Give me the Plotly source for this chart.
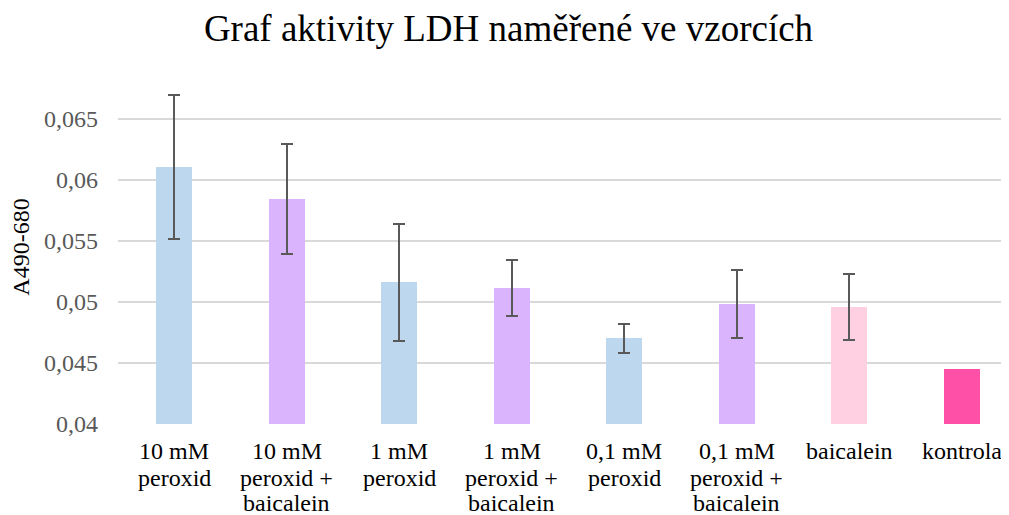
import plotly.graph_objects as go

categories = ["10 mM<br>peroxid", "10 mM<br>peroxid +<br>baicalein", "1 mM<br>peroxid",
              "1 mM<br>peroxid +<br>baicalein", "0,1 mM<br>peroxid", "0,1 mM<br>peroxid +<br>baicalein",
              "baicalein", "kontrola"]
values = [0.0610, 0.0584, 0.0516, 0.0511, 0.0470, 0.0498, 0.0496, 0.0445]
errors = [0.0059, 0.0045, 0.0048, 0.0023, 0.00115, 0.0028, 0.0027, None]
colors = ["#BDD7EE", "#DAB4FC", "#BDD7EE", "#DAB4FC", "#BDD7EE", "#DAB4FC", "#FFD0E1", "#FF50A8"]
tick_vals = [0.04, 0.045, 0.05, 0.055, 0.06, 0.065]
tick_text = ["0,04", "0,045", "0,05", "0,055", "0,06", "0,065"]

FONT = "Liberation Serif"
xs = list(range(len(categories)))

with_err = [i for i, e in enumerate(errors) if e is not None]
no_err = [i for i, e in enumerate(errors) if e is None]

fig = go.Figure()
fig.add_trace(go.Bar(
    x=[xs[i] for i in with_err], y=[values[i] for i in with_err], width=0.32,
    marker=dict(color=[colors[i] for i in with_err], line=dict(width=0)),
    error_y=dict(type="data", array=[errors[i] for i in with_err], visible=True,
                 color="#595959", thickness=2, width=6),
))
fig.add_trace(go.Bar(
    x=[xs[i] for i in no_err], y=[values[i] for i in no_err], width=0.32,
    marker=dict(color=[colors[i] for i in no_err], line=dict(width=0)),
))

annotations = []
shifts = [-27.0, -54.2, -79.0]
for i, lab in enumerate(categories):
    for j, line in enumerate(lab.split("<br>")):
        annotations.append(dict(
            x=xs[i], y=0, xref="x", yref="paper", yanchor="middle", xanchor="center",
            yshift=shifts[j], text=line, showarrow=False,
            font=dict(family=FONT, size=24, color="#000000")))

# page body has an 8px default margin; the figure is sized to fit the window
fig.update_layout(
    width=1001, height=507,
    margin=dict(l=110, r=0, t=62, b=91),
    paper_bgcolor="white", plot_bgcolor="white",
    showlegend=False,
    barmode="overlay",
    title=dict(text="Graf aktivity LDH naměřené ve vzorcích", x=0.5, xanchor="center",
               y=1 - 20 / 507, yanchor="middle", yref="container",
               font=dict(family=FONT, size=37, color="#000000")),
    xaxis=dict(range=[-0.5, 7.42], showticklabels=False, showgrid=False, zeroline=False,
               showline=False, ticks=""),
    yaxis=dict(range=[0.04, 0.04 + 354 / 12220], tickvals=tick_vals, ticktext=tick_text,
               showgrid=True, gridcolor="#D9D9D9", gridwidth=1.5, zeroline=False,
               showline=False, ticks="", ticklabelstandoff=19,
               tickfont=dict(family=FONT, size=24, color="#595959"),
               title=dict(text="A490-680", standoff=11,
                          font=dict(family=FONT, size=24, color="#000000"))),
    annotations=annotations,
    bargap=0,
)

fig.write_html("out.html")
